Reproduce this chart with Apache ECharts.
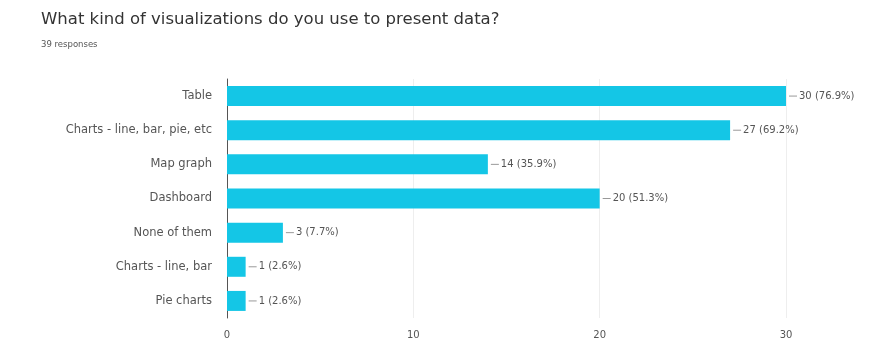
<!DOCTYPE html>
<html>
<head>
<meta charset="utf-8">
<script src="https://cdn.jsdelivr.net/npm/echarts@6/dist/echarts.min.js"></script>
<style>
html, body { margin: 0; padding: 0; background: #fff; }
#chart { width: 874px; height: 347px; }
</style>
</head>
<body>
<div id="chart"></div>
<script>
// survey answers, top to bottom as in the picture
const categories = ['Table', 'Charts - line, bar, pie, etc', 'Map graph', 'Dashboard', 'None of them', 'Charts - line, bar', 'Pie charts']
const counts = [30, 27, 14, 20, 3, 1, 1]
const totalResponses = 39
const xTicks = [0, 10, 20, 30]

const chart = echarts.init(document.getElementById('chart'))
const option = {
  animation: false,
  textStyle: { fontFamily: '"DejaVu Sans", sans-serif' },
  title: {
    text: 'What kind of visualizations do you use to present data?',
    subtext: totalResponses + ' responses',
    left: 36,
    top: 6,
    itemGap: 12,
    textStyle: { fontSize: 16.5, fontWeight: 'normal', color: '#333' },
    subtextStyle: { fontSize: 8.5, color: '#555' }
  },
  grid: { left: 227, right: 88, top: 79, bottom: 29, containLabel: false },
  xAxis: {
    type: 'value',
    min: xTicks[0],
    max: xTicks[xTicks.length - 1],
    interval: 10,
    axisLine: { show: false },
    axisTick: { show: false },
    axisLabel: { color: '#555', fontSize: 10, margin: 12 },
    splitLine: { lineStyle: { color: '#eee' } }
  },
  yAxis: {
    type: 'category',
    inverse: true,
    data: categories,
    axisLine: { lineStyle: { color: '#555' } },
    axisTick: { show: false },
    axisLabel: { color: '#555', fontSize: 11.5, margin: 15 }
  },
  series: [{
    type: 'bar',
    data: counts,
    barWidth: 20,
    itemStyle: { color: '#14c6e6' },
    label: {
      show: true,
      position: 'right',
      distance: 3,
      fontSize: 10,
      color: '#555',
      formatter: p => '{l| }{g| }' + p.value + ' (' + (p.value / totalResponses * 100).toFixed(1) + '%)',
      rich: {
        l: { width: 8, height: 1, backgroundColor: '#999', padding: 0, align: 'left' },
        g: { width: 2 }
      }
    }
  }]
}
chart.setOption(option)
</script>
</body>
</html>
